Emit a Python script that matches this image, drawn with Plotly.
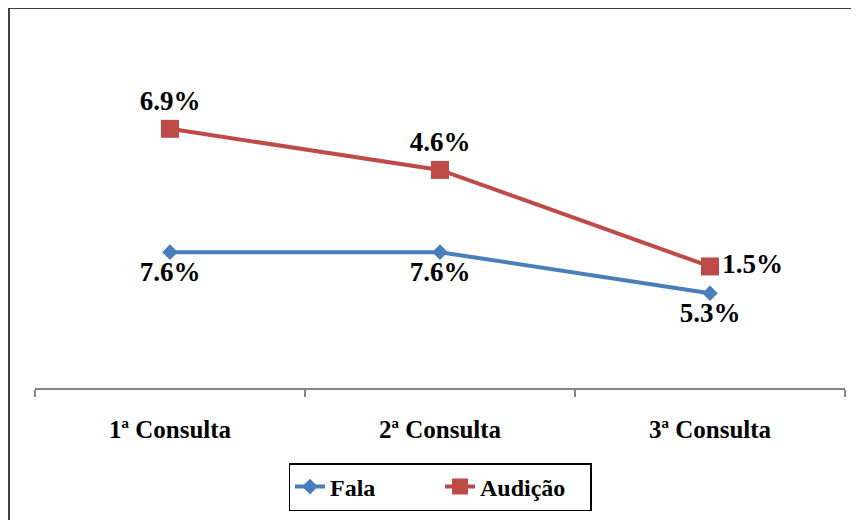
import plotly.graph_objects as go

categories = ["1ª Consulta", "2ª Consulta", "3ª Consulta"]
fala = [7.6, 7.6, 5.3]
audicao = [6.9, 4.6, 1.5]
fala_labels = ["7.6%", "7.6%", "5.3%"]
audicao_labels = ["6.9%", "4.6%", "1.5%"]

FONT = "Liberation Serif"
BLUE = "#4A7EBB"
RED = "#BE4B48"

# page body adds an 8px offset; figure drawn at 851x512
W, H = 851, 512
L, R, T, B = 27, 14, 94, 132
PW, PH = W - L - R, H - T - B

fig = go.Figure()
fig.add_trace(go.Scatter(
    x=categories, y=fala, name="Fala", stackgroup="s", fill="none",
    mode="lines+markers+text", text=fala_labels, cliponaxis=False,
    textposition=["bottom center", "bottom center", "bottom center"],
    textfont=dict(family=FONT, size=27, color="black", weight="bold"),
    line=dict(color=BLUE, width=4),
    marker=dict(symbol="diamond", size=12, color=BLUE),
))
fig.add_trace(go.Scatter(
    x=categories, y=audicao, name="Audição", stackgroup="s", fill="none",
    mode="lines+markers+text", text=audicao_labels, cliponaxis=False,
    textposition=["top center", "top center", "middle right"],
    textfont=dict(family=FONT, size=27, color="black", weight="bold"),
    line=dict(color=RED, width=4),
    marker=dict(symbol="square", size=18, color=RED),
))

fig.update_layout(
    width=W, height=H,
    margin=dict(l=L, r=R, t=T, b=B, autoexpand=False),
    paper_bgcolor="white", plot_bgcolor="white",
    font=dict(family=FONT, size=20, color="black"),
    showlegend=True,
    legend=dict(orientation="h", x=(440 - 8 - L) / PW, xanchor="center",
                y=(380 - 479) / PH, yanchor="middle",
                bordercolor="black", borderwidth=1.5,
                font=dict(family=FONT, size=24, color="black", weight="bold"),
                entrywidth=105, entrywidthmode="pixels",
                traceorder="normal"),
    xaxis=dict(type="category", range=[-0.5, 2.5], showgrid=False, zeroline=False,
               showline=True, linecolor="#868686", linewidth=1.5,
               ticks="outside", tickson="boundaries", ticklen=7, tickcolor="#868686",
               tickwidth=1.5, ticklabelstandoff=18,
               tickfont=dict(family=FONT, size=25, color="black", weight="bold")),
    yaxis=dict(range=[0, 16], visible=False, showgrid=False, zeroline=False),
    shapes=[dict(type="rect", xref="paper", yref="paper",
                 x0=(1 - L) / PW, x1=1.2, y0=-1.0, y1=(380 - 0) / PH,
                 line=dict(color="#404040", width=2), layer="below")],
)

fig.write_html("out.html")
